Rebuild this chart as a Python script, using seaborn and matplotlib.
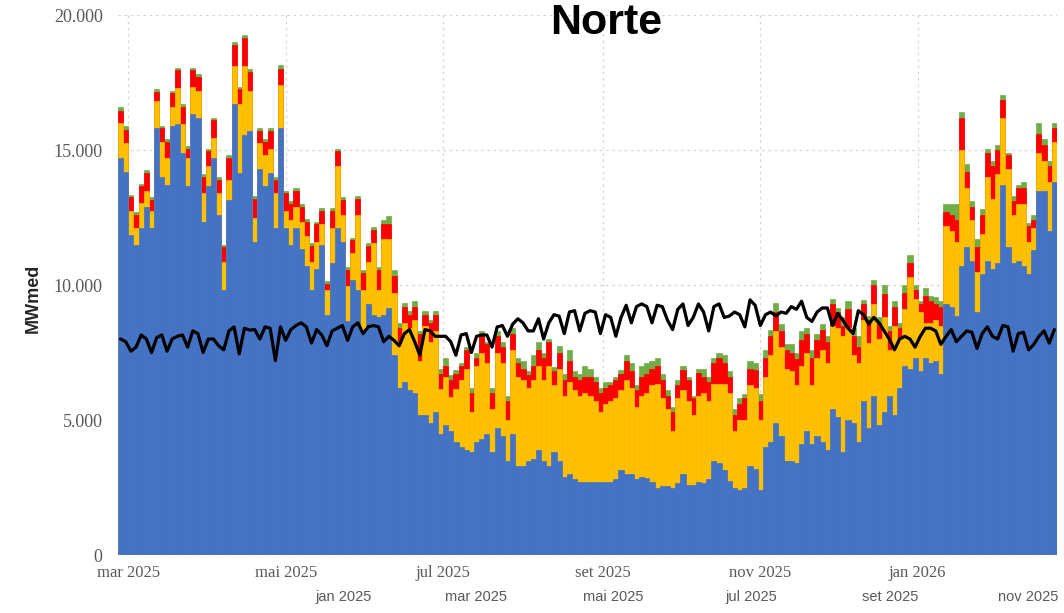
import numpy as np
import pandas as pd
import seaborn as sns
import matplotlib.pyplot as plt
import matplotlib.dates as mdates
from matplotlib.ticker import FuncFormatter, MultipleLocator

# geração média a cada 2 dias (mil MWmed), topo acumulado de cada fonte
topo_azul = [
    14.7, 14.2, 11.85, 11.5, 12.1, 12.9, 12.1, 15.8, 14.0, 13.7, 15.9, 15.95, 14.9, 13.65, 16.35, 16.2, 12.35, 13.65, 14.7, 12.6, 9.8, 13.15, 16.7, 14.15, 15.55, 15.7,
    11.6, 14.3, 13.65, 14.15, 12.1, 15.8, 12.1, 11.5, 12.1, 11.35, 10.7, 9.8, 10.6, 11.5, 8.9, 10.8, 12.1, 11.6, 8.65, 10.2, 9.8, 8.25, 9.3, 8.9, 8.8, 8.9,
    9.15, 7.4, 6.2, 6.4, 6.1, 6.0, 5.2, 5.2, 4.9, 5.3, 4.5, 4.8, 4.6, 4.2, 4.0, 3.9, 3.8, 4.2, 4.3, 4.5, 3.8, 4.7, 4.4, 3.5, 4.5, 3.3,
    3.3, 3.5, 3.55, 3.9, 3.5, 3.3, 3.8, 3.5, 2.9, 3.0, 2.8, 2.7, 2.7, 2.7, 2.7, 2.7, 2.7, 2.7, 2.8, 3.15, 3.0, 3.0, 2.8, 2.9, 2.85, 2.7,
    2.5, 2.55, 2.55, 2.5, 2.65, 3.0, 2.6, 2.6, 2.7, 2.65, 2.8, 3.5, 3.4, 3.15, 2.75, 2.5, 2.4, 2.5, 3.3, 3.2, 2.4, 4.0, 4.2, 4.9, 4.4, 3.5,
    3.5, 3.4, 4.1, 4.6, 4.1, 4.4, 4.2, 3.9, 5.4, 5.1, 3.8, 5.0, 4.9, 4.2, 5.7, 4.7, 5.9, 4.8, 5.3, 5.9, 5.2, 6.2, 7.0, 6.9, 7.3, 6.8, 7.3,
    7.1, 7.2, 6.7, 9.3, 9.2, 8.85, 10.7, 11.4, 10.9, 9.0, 10.4, 10.9, 10.6, 10.8, 13.7, 11.4, 10.8, 10.9, 10.7, 10.4, 11.3, 13.5, 13.5, 12.0, 13.8,
]
topo_amarelo = [
    16.0, 15.25, 12.75, 12.1, 13.05, 13.5, 12.75, 16.8, 15.3, 14.7, 16.6, 17.3, 15.95, 14.7, 17.35, 17.2, 13.4, 14.4, 15.45, 13.4, 10.85, 13.9, 18.1, 16.7, 18.1, 17.2,
    12.5, 15.25, 14.8, 15.05, 13.4, 17.4, 12.75, 12.4, 12.9, 12.35, 11.8, 10.85, 11.6, 12.25, 9.8, 12.1, 14.4, 12.6, 9.95, 11.2, 12.6, 9.8, 10.85, 11.55, 9.8, 11.7,
    11.7, 9.7, 7.9, 8.6, 8.4, 8.7, 7.2, 8.5, 7.9, 8.3, 6.15, 6.6, 5.85, 6.15, 6.5, 6.9, 5.3, 7.0, 7.5, 7.1, 5.4, 7.5, 7.1, 5.0, 7.6, 6.6,
    6.5, 6.2, 6.5, 7.0, 6.5, 7.0, 6.3, 6.9, 5.9, 6.4, 6.1, 5.9, 6.0, 5.9, 5.7, 5.3, 5.6, 5.7, 5.8, 6.1, 6.5, 6.2, 5.5, 5.9, 6.0, 6.3,
    6.35, 5.8, 5.4, 4.6, 5.8, 6.1, 5.7, 5.2, 5.9, 6.0, 5.7, 6.35, 6.35, 6.35, 6.0, 4.6, 5.0, 5.0, 6.3, 6.2, 5.0, 6.6, 7.4, 8.3, 7.7, 6.9,
    6.8, 6.3, 7.0, 7.5, 6.3, 7.3, 7.6, 7.1, 8.5, 8.4, 8.1, 8.4, 7.4, 7.1, 8.7, 7.85, 9.3, 8.0, 8.8, 7.6, 8.5, 8.0, 9.1, 10.3, 9.5, 9.0, 8.6,
    8.6, 8.7, 8.5, 12.2, 12.0, 11.6, 15.0, 13.6, 12.4, 10.5, 11.9, 14.0, 13.2, 14.1, 16.2, 14.3, 12.6, 13.0, 13.0, 11.6, 12.1, 14.9, 14.6, 13.8, 15.3,
]
topo_vermelho = [
    16.45, 15.75, 13.25, 12.6, 13.65, 14.15, 13.15, 17.15, 15.8, 15.3, 17.1, 17.95, 16.6, 15.05, 17.95, 17.7, 14.0, 14.95, 16.1, 13.9, 11.4, 14.7, 18.9, 17.25, 19.15, 17.9,
    13.2, 15.7, 15.3, 15.7, 13.9, 18.0, 13.4, 13.0, 13.5, 12.9, 12.35, 11.45, 12.25, 12.75, 10.05, 12.75, 14.95, 13.15, 10.55, 11.65, 13.2, 10.45, 11.45, 12.05, 10.55, 12.25,
    12.25, 10.35, 8.4, 9.2, 8.9, 9.2, 8.2, 8.9, 8.6, 8.9, 6.7, 7.0, 6.5, 6.7, 7.0, 7.6, 6.0, 7.3, 8.1, 7.8, 6.0, 8.1, 7.7, 5.7, 8.2, 7.1,
    6.9, 6.65, 7.0, 7.6, 7.3, 7.9, 6.8, 7.5, 6.5, 7.2, 6.6, 6.5, 6.6, 6.6, 6.4, 6.0, 6.2, 6.3, 6.5, 6.7, 7.2, 6.8, 6.1, 6.6, 6.7, 6.9,
    7.0, 6.5, 5.9, 5.3, 6.3, 6.85, 6.5, 5.8, 6.75, 6.6, 6.4, 7.1, 7.3, 7.1, 6.6, 5.2, 5.6, 5.8, 6.9, 6.86, 5.7, 7.3, 8.1, 9.0, 8.3, 7.6,
    7.5, 7.25, 7.95, 8.2, 7.3, 7.95, 8.35, 7.9, 9.3, 9.0, 8.5, 9.1, 8.1, 7.7, 9.3, 8.7, 10.0, 8.6, 9.65, 8.3, 9.2, 8.4, 9.7, 10.8, 9.8, 9.3, 9.6,
    9.4, 9.3, 9.2, 12.7, 12.6, 12.4, 16.2, 14.2, 12.9, 11.4, 12.6, 14.9, 14.4, 15.0, 16.85, 14.8, 13.1, 13.6, 13.6, 12.2, 12.4, 15.6, 15.2, 14.4, 15.8,
]
topo_verde = [
    16.6, 15.9, 13.35, 12.7, 13.75, 14.25, 13.25, 17.25, 15.9, 15.4, 17.2, 18.05, 16.7, 15.15, 18.05, 17.8, 14.1, 15.05, 16.2, 14.0, 11.5, 14.8, 19.0, 17.35, 19.25, 18.0,
    13.3, 15.8, 15.4, 15.8, 14.0, 18.15, 13.5, 13.1, 13.6, 13.0, 12.45, 11.55, 12.35, 12.85, 10.15, 12.85, 15.05, 13.25, 10.65, 11.75, 13.3, 10.55, 11.55, 12.15, 10.65, 12.4,
    12.55, 10.55, 8.6, 9.35, 9.05, 9.4, 8.3, 9.05, 8.7, 9.05, 6.9, 7.3, 6.65, 6.85, 7.1, 7.7, 6.2, 7.5, 8.3, 7.9, 6.2, 8.3, 7.9, 5.9, 8.4, 7.3,
    7.2, 6.8, 7.4, 7.9, 7.5, 8.0, 6.95, 7.75, 6.7, 7.6, 6.8, 6.7, 7.0, 6.9, 6.6, 6.2, 6.4, 6.4, 6.6, 6.85, 7.4, 7.1, 6.3, 7.0, 7.1, 7.2,
    7.3, 6.7, 6.1, 5.5, 6.5, 6.99, 6.6, 5.9, 6.9, 6.9, 6.6, 7.3, 7.5, 7.4, 6.8, 5.4, 5.8, 5.95, 7.2, 7.1, 5.95, 7.6, 8.35, 9.35, 8.55, 7.8,
    7.8, 7.5, 8.3, 8.4, 7.6, 8.2, 8.55, 8.1, 9.5, 9.15, 8.8, 9.4, 8.4, 8.1, 9.45, 8.85, 10.2, 8.8, 10.0, 8.5, 9.4, 8.6, 10.0, 11.1, 10.0, 9.4, 9.9,
    9.6, 9.55, 9.4, 13.0, 13.0, 13.0, 16.4, 14.5, 13.1, 11.7, 12.8, 15.05, 14.6, 15.2, 17.05, 14.9, 13.3, 13.7, 13.8, 12.3, 12.6, 16.0, 15.4, 14.6, 16.0,
]
# carga (linha preta), mil MWmed
carga = [
    8.0, 7.9, 7.55, 7.7, 8.15, 8.0, 7.5, 8.05, 8.15, 7.55, 8.0, 8.1, 8.15, 7.7, 8.3, 8.2, 7.5, 8.0, 8.0, 7.75, 7.6, 8.3, 8.45, 7.45, 8.4, 8.33,
    8.35, 8.0, 8.45, 8.4, 7.2, 8.45, 7.95, 8.35, 8.5, 8.6, 8.45, 7.85, 8.35, 8.15, 7.75, 8.3, 8.4, 8.5, 7.95, 8.45, 8.6, 8.2, 8.45, 8.5, 8.45, 7.9,
    8.1, 7.95, 7.75, 8.2, 8.35, 7.9, 7.4, 8.35, 8.3, 8.1, 8.1, 8.1, 7.9, 7.4, 8.15, 8.2, 7.5, 8.1, 8.15, 8.15, 7.7, 8.45, 8.5, 8.1, 8.55, 8.75,
    8.6, 8.3, 8.3, 8.75, 8.0, 8.6, 8.9, 8.85, 8.2, 9.0, 9.05, 8.3, 8.95, 9.05, 9.0, 8.2, 8.9, 8.8, 8.1, 8.8, 9.25, 8.6, 9.2, 9.3, 9.2, 8.6,
    9.25, 9.2, 8.7, 8.35, 9.1, 9.3, 8.5, 8.8, 9.3, 9.0, 8.3, 9.2, 9.3, 8.8, 8.85, 9.0, 8.9, 8.45, 9.45, 9.25, 8.5, 8.9, 9.0, 8.85, 9.0, 8.95,
    9.2, 9.1, 9.4, 8.8, 8.65, 9.0, 9.15, 9.15, 8.5, 8.95, 8.7, 8.4, 8.2, 9.05, 8.9, 8.55, 8.8, 8.6, 8.3, 8.0, 7.6, 8.0, 8.1, 8.0, 7.7, 8.1, 8.4,
    8.4, 8.3, 7.8, 8.1, 8.35, 7.9, 8.1, 8.3, 8.25, 7.65, 8.2, 8.45, 8.1, 8.0, 8.5, 8.45, 7.55, 8.2, 8.25, 7.6, 7.8, 8.1, 8.3, 7.85, 8.35,
]

inicio = '2025-02-26'
meses = ['jan', 'fev', 'mar', 'abr', 'mai', 'jun', 'jul', 'ago', 'set', 'out', 'nov', 'dez']

dias = pd.date_range(inicio, periods=len(topo_azul), freq='2D')
df = pd.DataFrame({
    'dia': mdates.date2num(dias),
    'azul': np.array(topo_azul) * 1000,
    'amarelo': np.array(topo_amarelo) * 1000,
    'vermelho': np.array(topo_vermelho) * 1000,
    'verde': np.array(topo_verde) * 1000,
    'carga': np.array(carga) * 1000,
})

sns.set_theme(style='white')
plt.rcParams['font.family'] = ['Liberation Sans', 'DejaVu Sans']

fig = plt.figure(figsize=(10.64, 6.13), dpi=100)
ax = fig.add_axes([0.1109, 0.0946, 0.8825, 0.8809])

# barras empilhadas: a mais alta primeiro, as outras por cima
camadas = [('verde', '#70AD47'), ('vermelho', '#FF0000'), ('amarelo', '#FFC000'), ('azul', '#4472C4')]
for col, cor in camadas:
    sns.barplot(data=df, x='dia', y=col, native_scale=True, width=1, color=cor,
                saturation=1, edgecolor=cor, linewidth=0.5, errorbar=None, ax=ax)
sns.lineplot(data=df, x='dia', y='carga', color='black', lw=2.3, ax=ax, zorder=5)


def fmt_mes(v, pos):
    d = mdates.num2date(v)
    return f'{meses[d.month - 1]} {d.year}'


ax.set_xlim(mdates.date2num(pd.Timestamp('2025-02-25')), mdates.date2num(pd.Timestamp('2026-02-24')))
ax.set_ylim(0, 20000)
ax.yaxis.set_major_locator(MultipleLocator(5000))
ax.yaxis.set_major_formatter(FuncFormatter(lambda v, p: f'{int(v):,}'.replace(',', '.')))
ax.xaxis.set_major_locator(mdates.MonthLocator(bymonth=[1, 3, 5, 7, 9, 11]))
ax.xaxis.set_major_formatter(FuncFormatter(fmt_mes))
ax.grid(True, color='#d4d4d4', linestyle=(0, (2, 3)), linewidth=0.9)
ax.set_axisbelow(True)
ax.set_xlabel('')
ax.set_ylabel('')
for s in ax.spines.values():
    s.set_visible(False)
ax.tick_params(axis='x', length=0, pad=7, labelsize=12, labelcolor='#595959',
               labelfontfamily='Liberation Serif')
ax.tick_params(axis='y', length=0, pad=11, labelsize=13, labelcolor='#595959',
               labelfontfamily='Liberation Serif')

# segunda linha de datas no eixo inferior
ax2 = ax.twiny()
ax2.set_xlim(mdates.date2num(pd.Timestamp('2024-09-23')), mdates.date2num(pd.Timestamp('2025-11-14')))
ax2.set_xticks(mdates.date2num(pd.date_range('2025-01-01', '2025-11-01', freq='2MS')))
ax2.xaxis.set_major_formatter(FuncFormatter(fmt_mes))
ax2.xaxis.set_ticks_position('bottom')
ax2.spines['bottom'].set_position(('outward', 21))
for s in ax2.spines.values():
    s.set_visible(False)
ax2.tick_params(axis='x', length=0, pad=4, labelsize=10.5, labelcolor='#595959')
ax2.grid(False)

fig.text(33 / 1064, 1 - 298 / 613, 'MWmed', rotation=90, ha='center', va='center',
         fontsize=13, fontweight='bold', color='#262626')
fig.text(606 / 1064, 1 - 23 / 613, 'Norte', ha='center', va='center',
         fontsize=31, fontweight='bold', color='black')

fig.savefig('out.png', dpi=100)
